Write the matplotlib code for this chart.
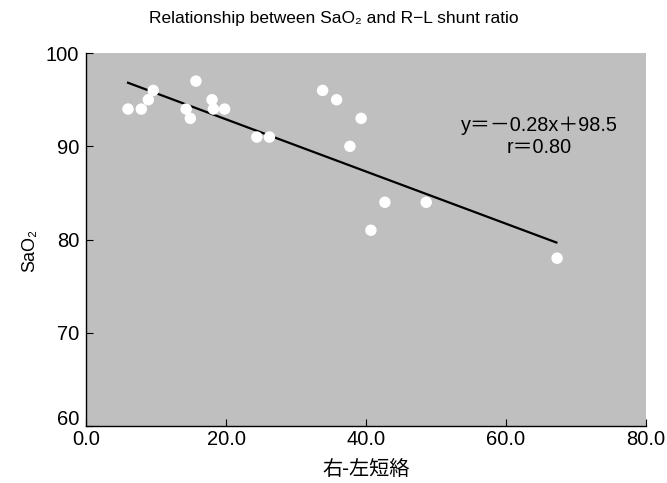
import matplotlib
matplotlib.use("Agg")
import matplotlib.pyplot as plt
import matplotlib.transforms as mtransforms
import numpy as np

plt.rcParams['font.family'] = ['Liberation Sans', 'DejaVu Sans', 'Noto Sans CJK JP']

# Data
shunt = [6.0, 7.9, 8.9, 9.6, 15.7, 14.3, 14.9, 18.0, 18.2, 19.8, 24.4, 26.2,
         33.8, 35.8, 37.7, 39.3, 40.7, 42.7, 48.6, 67.3]
sao2 = [94, 94, 95, 96, 97, 94, 93, 95, 94, 94, 91, 91,
        96, 95, 90, 93, 81, 84, 84, 78]
slope = -0.28
intercept = 98.5
fit_x = [6.0, 67.2]

x_ticks = [0, 20, 40, 60, 80]
x_labels = ['0.0', '20.0', '40.0', '60.0', '80.0']
y_ticks = [60, 70, 80, 90, 100]
y_labels = ['60', '70', '80', '90', '100']

fig = plt.figure(figsize=(6.67, 4.83), dpi=100)
ax = fig.add_axes([0.129, 0.118, 0.8395, 0.772])
ax.set_facecolor('#bfbfbf')

fx = np.array(fit_x)
ax.plot(fx, slope * fx + intercept, color='black', lw=1.6, zorder=2)
ax.scatter(shunt, sao2, s=68, color='white', edgecolors='none', zorder=3)

ax.set_xlim(0, 80)
ax.set_ylim(60, 100)
ax.set_xticks(x_ticks)
ax.set_xticklabels(x_labels)
ax.set_yticks(y_ticks)
ax.set_yticklabels(y_labels)
ax.tick_params(direction='in', length=5, width=0.8, labelsize=14.5, colors='black')
ax.tick_params(axis='x', pad=3)
ax.tick_params(axis='y', pad=5)
for s in ['top', 'right']:
    ax.spines[s].set_visible(False)
for s in ['left', 'bottom']:
    ax.spines[s].set_linewidth(1.0)

# raise the lowest y label a little so it sits above "0.0"
lbl60 = ax.get_yticklabels()[0]
lbl60.set_transform(lbl60.get_transform() +
                    mtransforms.ScaledTranslation(0, 6 / 72, fig.dpi_scale_trans))

ax.text(0.81, 0.776, 'y＝－0.28x＋98.5\nr＝0.80', transform=ax.transAxes,
        ha='center', va='center', fontsize=14.3, linespacing=1.2,
        family=['Liberation Sans', 'Noto Sans CJK JP'])

fig.suptitle('Relationship between SaO₂ and R−L shunt ratio', fontsize=12.5,
             x=0.5, y=0.962, va='center')
ax.set_xlabel('右-左短絡', fontsize=14.5, family=['Noto Sans CJK JP'], labelpad=7)
ax.set_ylabel('SaO₂', fontsize=13, labelpad=6)
ax.yaxis.set_label_coords(-0.086, 0.47)

fig.savefig('out.png', dpi=100)
